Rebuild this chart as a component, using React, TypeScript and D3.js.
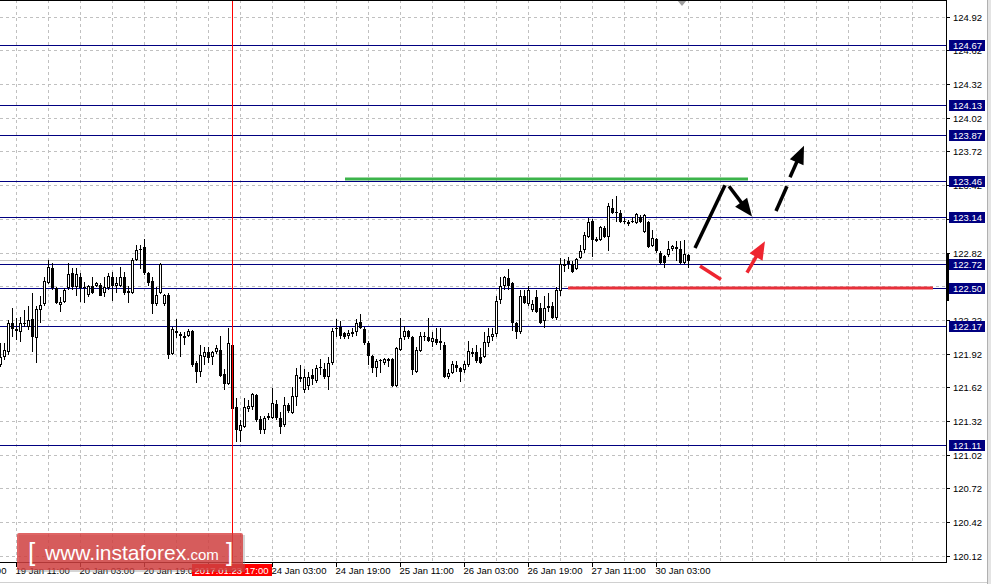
import { useEffect } from 'react';
import * as d3 from 'd3';

// H1 candles, 19 Jan 07:00 .. 30 Jan 07:00 (index = bar number)
const opens = [
  121.82, 121.89, 121.93, 122.19, 122.14, 122.11, 122.19, 122.16, 122.23, 122.06,
  122.31, 122.36, 122.55, 122.68, 122.50, 122.35, 122.38, 122.50, 122.64, 122.51,
  122.60, 122.51, 122.44, 122.52, 122.52, 122.53, 122.46, 122.50, 122.60, 122.52,
  122.52, 122.60, 122.48, 122.46, 122.75, 122.84, 122.87, 122.64, 122.57, 122.36,
  122.46, 122.36, 122.44, 121.92, 122.12, 122.09, 122.08, 122.08, 122.12, 121.84,
  121.76, 121.89, 121.93, 121.89, 121.93, 121.95, 121.74, 121.65, 122.00, 121.44,
  121.23, 121.27, 121.43, 121.44, 121.55, 121.34, 121.24, 121.35, 121.35, 121.47,
  121.35, 121.28, 121.46, 121.39, 121.53, 121.71, 121.60, 121.63, 121.73, 121.68,
  121.79, 121.78, 121.71, 121.84, 122.14, 122.16, 122.10, 122.08, 122.11, 122.11,
  122.20, 122.14, 122.01, 121.90, 121.79, 121.85, 121.84, 121.87, 121.87, 121.63,
  121.95, 122.07, 122.12, 122.07, 121.76, 121.94, 122.08, 122.07, 122.02, 122.05,
  122.03, 122.00, 121.71, 121.75, 121.82, 121.79, 121.77, 121.82, 121.93, 121.93,
  121.89, 121.89, 122.01, 122.07, 122.09, 122.40, 122.52, 122.59, 122.55, 122.19,
  122.11, 122.43, 122.36, 122.31, 122.42, 122.33, 122.21, 122.34, 122.34, 122.24,
  122.48, 122.70, 122.74, 122.72, 122.67, 122.77, 122.84, 122.96, 123.10, 122.94,
  122.93, 123.04, 122.96, 123.22, 123.17, 123.17, 123.10, 123.09, 123.09, 123.08,
  123.14, 123.00, 123.09, 122.88, 122.94, 122.82, 122.79, 122.80, 122.85, 122.87,
  122.85, 122.73, 122.80,
];
const highs = [
  122.01, 122.01, 122.22, 122.33, 122.24, 122.25, 122.31, 122.34, 122.46, 122.34,
  122.43, 122.60, 122.75, 122.73, 122.51, 122.42, 122.50, 122.73, 122.68, 122.68,
  122.64, 122.56, 122.53, 122.60, 122.56, 122.55, 122.60, 122.64, 122.65, 122.60,
  122.69, 122.65, 122.52, 122.77, 122.89, 122.89, 122.94, 122.65, 122.60, 122.51,
  122.73, 122.45, 122.46, 122.16, 122.23, 122.11, 122.11, 122.14, 122.13, 121.85,
  122.00, 121.98, 121.98, 121.94, 122.00, 122.08, 121.78, 122.15, 122.01, 121.52,
  121.33, 121.52, 121.51, 121.57, 121.56, 121.36, 121.36, 121.39, 121.61, 121.51,
  121.40, 121.53, 121.48, 121.62, 121.79, 121.82, 121.78, 121.76, 121.78, 121.82,
  121.87, 121.84, 121.89, 122.15, 122.23, 122.21, 122.11, 122.13, 122.15, 122.23,
  122.27, 122.16, 122.03, 121.91, 121.87, 121.87, 121.88, 121.88, 121.88, 121.98,
  122.24, 122.17, 122.13, 122.08, 121.98, 122.11, 122.11, 122.24, 122.11, 122.15,
  122.15, 122.02, 121.78, 121.85, 121.85, 121.80, 121.85, 122.03, 121.97, 122.00,
  121.97, 122.11, 122.15, 122.15, 122.43, 122.60, 122.61, 122.67, 122.56, 122.20,
  122.49, 122.49, 122.52, 122.40, 122.49, 122.37, 122.43, 122.46, 122.38, 122.51,
  122.77, 122.76, 122.78, 122.74, 122.77, 122.89, 123.00, 123.13, 123.12, 122.96,
  123.06, 123.06, 123.26, 123.30, 123.32, 123.20, 123.13, 123.11, 123.14, 123.17,
  123.15, 123.16, 123.10, 123.02, 122.95, 122.83, 122.80, 122.92, 122.89, 122.92,
  122.92, 122.93, 122.81,
];
const lows = [
  121.80, 121.86, 121.91, 122.07, 122.04, 122.02, 122.16, 122.13, 121.93, 121.84,
  122.19, 122.34, 122.54, 122.49, 122.36, 122.29, 122.37, 122.49, 122.49, 122.43,
  122.38, 122.37, 122.42, 122.45, 122.51, 122.43, 122.42, 122.49, 122.39, 122.46,
  122.51, 122.44, 122.37, 122.45, 122.74, 122.67, 122.62, 122.52, 122.27, 122.34,
  122.45, 122.34, 121.87, 121.91, 122.06, 121.89, 122.00, 122.07, 121.80, 121.66,
  121.71, 121.82, 121.84, 121.82, 121.92, 121.71, 121.60, 121.64, 121.38, 121.13,
  121.13, 121.26, 121.40, 121.42, 121.31, 121.20, 121.20, 121.33, 121.34, 121.33,
  121.20, 121.27, 121.39, 121.38, 121.45, 121.67, 121.57, 121.60, 121.64, 121.66,
  121.73, 121.69, 121.60, 121.82, 122.07, 122.05, 122.05, 122.05, 122.07, 122.08,
  122.14, 122.00, 121.82, 121.75, 121.71, 121.75, 121.82, 121.80, 121.62, 121.62,
  121.94, 122.04, 122.05, 121.73, 121.75, 121.93, 122.03, 122.02, 121.98, 122.00,
  121.95, 121.70, 121.69, 121.74, 121.76, 121.67, 121.75, 121.80, 121.89, 121.84,
  121.83, 121.88, 121.98, 122.03, 122.07, 122.36, 122.49, 122.49, 122.12, 122.05,
  122.09, 122.36, 122.34, 122.29, 122.28, 122.18, 122.15, 122.29, 122.23, 122.22,
  122.43, 122.65, 122.67, 122.64, 122.66, 122.76, 122.82, 122.95, 122.78, 122.91,
  122.92, 122.95, 122.83, 123.16, 123.09, 123.08, 123.07, 123.06, 123.08, 123.07,
  123.08, 122.99, 122.86, 122.87, 122.82, 122.72, 122.68, 122.78, 122.83, 122.74,
  122.72, 122.72, 122.68,
];
const closes = [
  121.89, 121.95, 122.19, 122.14, 122.12, 122.19, 122.18, 122.22, 122.07, 122.32,
  122.35, 122.57, 122.69, 122.50, 122.37, 122.38, 122.49, 122.63, 122.51, 122.63,
  122.50, 122.50, 122.52, 122.46, 122.55, 122.43, 122.51, 122.61, 122.52, 122.55,
  122.60, 122.46, 122.46, 122.75, 122.84, 122.85, 122.64, 122.55, 122.36, 122.44,
  122.72, 122.44, 121.91, 122.14, 122.10, 122.08, 122.06, 122.12, 121.82, 121.76,
  121.91, 121.93, 121.88, 121.93, 121.97, 121.72, 121.65, 122.01, 121.43, 121.24,
  121.28, 121.44, 121.45, 121.56, 121.33, 121.24, 121.35, 121.36, 121.48, 121.35,
  121.27, 121.46, 121.41, 121.54, 121.73, 121.69, 121.71, 121.71, 121.69, 121.79,
  121.80, 121.71, 121.84, 122.12, 122.15, 122.08, 122.07, 122.10, 122.09, 122.19,
  122.15, 122.01, 121.90, 121.79, 121.85, 121.86, 121.87, 121.85, 121.63, 121.97,
  122.06, 122.12, 122.07, 121.77, 121.95, 122.08, 122.07, 122.03, 122.06, 122.01,
  122.01, 121.71, 121.75, 121.83, 121.79, 121.76, 121.83, 121.94, 121.92, 121.85,
  121.84, 122.02, 122.08, 122.09, 122.39, 122.52, 122.60, 122.52, 122.19, 122.11,
  122.43, 122.37, 122.49, 122.36, 122.29, 122.19, 122.33, 122.33, 122.24, 122.49,
  122.72, 122.72, 122.72, 122.65, 122.76, 122.83, 122.98, 123.09, 122.93, 122.92,
  123.05, 122.96, 123.23, 123.17, 123.18, 123.09, 123.09, 123.07, 123.10, 123.16,
  123.09, 123.15, 122.87, 122.95, 122.83, 122.73, 122.73, 122.85, 122.88, 122.85,
  122.73, 122.81, 122.74,
];

const priceTicks = [
  120.12, 120.42, 120.72, 121.02, 121.32, 121.62, 121.92, 122.22, 122.52,
  122.82, 123.12, 123.42, 123.72, 124.02, 124.32, 124.62, 124.92,
];
const levelPrices = [124.67, 124.13, 123.87, 123.46, 123.14, 122.72, 122.5, 122.17, 121.11];

const timeTickBars = [-12, 4, 20, 36, 52, 68, 84, 100, 116, 132, 148, 164];
const timeTickLabels = [
  '18 Jan 19:00', '19 Jan 11:00', '20 Jan 03:00', '20 Jan 19:00', '23 Jan 11:00',
  '24 Jan 03:00', '24 Jan 19:00', '25 Jan 11:00', '26 Jan 03:00', '26 Jan 19:00',
  '27 Jan 11:00', '30 Jan 03:00',
];
const markerBar = 58;
const markerLabel = '2017.01.23 17:00';

// drawn annotations, [bar, price]
const greenLine = [[86.25, 123.475], [187, 123.475]];
const redLine = [[142, 122.5], [233.25, 122.5]];
const blackUp = [[173.75, 122.86], [181.25, 123.42]];
const blackDown = [[182.25, 123.41], [188, 123.14]];
const dashA = [[194, 123.19], [196.75, 123.41]];
const dashB = [[197.5, 123.49], [201, 123.77]];
const redDown = [[175, 122.7], [180.25, 122.58]];
const redUp = [[186.75, 122.64], [191.25, 122.92]];

const W = 991;
const H = 584;
const PLOT_R = 946;
const PLOT_B = 562;
const NAVY = '#000080';
const FONT = 'Liberation Sans, Arial, sans-serif';

const x = d3.scaleLinear().domain([0, 236.5]).range([0, PLOT_R]);
const y = d3.scaleLinear().domain([120.12, 124.92]).range([555.7, 16.7]);

function Arrow({ pts, color, width, head }: { pts: number[][]; color: string; width: number; head: boolean }) {
  const [x0, y0] = [x(pts[0][0]), y(pts[0][1])];
  const [x1, y1] = [x(pts[1][0]), y(pts[1][1])];
  if (!head) {
    return <line x1={x0} y1={y0} x2={x1} y2={y1} stroke={color} strokeWidth={width} />;
  }
  const len = Math.hypot(x1 - x0, y1 - y0);
  const ux = (x1 - x0) / len;
  const uy = (y1 - y0) / len;
  const hl = 18;
  const hw = 7.5;
  const bx = x1 - ux * hl;
  const by = y1 - uy * hl;
  const poly = [
    [x1, y1],
    [bx - uy * hw, by + ux * hw],
    [bx + uy * hw, by - ux * hw],
  ];
  return (
    <g>
      <line x1={x0} y1={y0} x2={bx + ux * 3} y2={by + uy * 3} stroke={color} strokeWidth={width} />
      <polygon points={poly.map((p) => p.join(',')).join(' ')} fill={color} />
    </g>
  );
}

export default function App() {
  useEffect(() => {
    document.body.style.margin = '0';
  }, []);

  const gridX = d3.range(4, 236, 8).map((b) => Math.round(x(b)) + 0.5);
  const markerX = Math.round(x(markerBar)) + 0.5;
  const bidY = Math.round(y(closes[closes.length - 1])) + 0.5;

  return (
    <svg width={W} height={H} style={{ display: 'block', fontFamily: FONT }}>
      <rect width={W} height={H} fill="#fff" />

      {/* grid */}
      <g stroke="#c0c0c0" strokeDasharray="3,3" strokeWidth={1}>
        {priceTicks.map((p) => (
          <line key={p} x1={0} x2={PLOT_R} y1={Math.round(y(p)) + 0.5} y2={Math.round(y(p)) + 0.5} />
        ))}
        {gridX.map((gx) => (
          <line key={gx} x1={gx} x2={gx} y1={0} y2={PLOT_B} />
        ))}
      </g>

      {/* bid line */}
      <line x1={0} x2={PLOT_R} y1={bidY - 1} y2={bidY - 1} stroke="#c0c0c0" />

      {/* levels */}
      {levelPrices.map((p) => {
        const ly = Math.round(y(p)) + 0.5;
        return <line key={p} x1={0} x2={PLOT_R} y1={ly} y2={ly} stroke={NAVY} strokeWidth={1} />;
      })}

      {/* candles */}
      <g>
        {opens.map((o, i) => {
          const c = closes[i];
          const cx = Math.round(x(i));
          const yh = Math.round(y(highs[i]));
          const yl = Math.round(y(lows[i]));
          const top = Math.round(y(Math.max(o, c)));
          const bot = Math.round(y(Math.min(o, c)));
          const bh = Math.max(bot - top, 1);
          return (
            <g key={i}>
              <rect x={cx} y={yh} width={1} height={Math.max(yl - yh, 1)} fill="#000" />
              <rect x={cx - 1} y={top} width={3} height={bh} fill="#000" />
              {c > o && bh > 2 && <rect x={cx} y={top + 1} width={1} height={bh - 2} fill="#fff" />}
            </g>
          );
        })}
      </g>

      {/* marker vertical */}
      <line x1={markerX} x2={markerX} y1={0} y2={PLOT_B} stroke="#ff0000" />

      {/* annotations */}
      <line
        x1={x(greenLine[0][0])} x2={x(greenLine[1][0])}
        y1={y(greenLine[0][1])} y2={y(greenLine[1][1])}
        stroke="#3cb44a" strokeWidth={3}
      />
      <line
        x1={x(redLine[0][0])} x2={x(redLine[1][0])}
        y1={Math.round(y(redLine[0][1]))} y2={Math.round(y(redLine[1][1]))}
        stroke="#e8303a" strokeWidth={3}
      />
      <Arrow pts={blackUp} color="#000" width={3.5} head={false} />
      <Arrow pts={blackDown} color="#000" width={3.5} head={true} />
      <Arrow pts={dashA} color="#000" width={3.5} head={false} />
      <Arrow pts={dashB} color="#000" width={3.5} head={true} />
      <Arrow pts={redDown} color="#ee2530" width={3.5} head={false} />
      <Arrow pts={redUp} color="#ee2530" width={3.5} head={true} />

      {/* chart shift marker */}
      <polygon points="677,0 687,0 682,6" fill="#a0a0a0" />

      {/* frame */}
      <line x1={0} x2={PLOT_R + 0.5} y1={0.5} y2={0.5} stroke="#000" />
      <line x1={0} x2={PLOT_R + 0.5} y1={PLOT_B + 0.5} y2={PLOT_B + 0.5} stroke="#000" />
      <line x1={PLOT_R + 0.5} x2={PLOT_R + 0.5} y1={0} y2={PLOT_B + 1} stroke="#000" />
      <rect x={PLOT_R} y={Math.round(y(122.82))} width={3} height={Math.round(y(122.39)) - Math.round(y(122.82))} fill="#000" />

      {/* price axis */}
      <g fontSize={9.5} fill="#000">
        {priceTicks.map((p) => {
          const ty = Math.round(y(p)) + 0.5;
          return (
            <g key={p}>
              <line x1={PLOT_R} x2={PLOT_R + 4} y1={ty} y2={ty} stroke="#000" />
              <text x={953} y={ty + 3.5}>{p.toFixed(2)}</text>
            </g>
          );
        })}
      </g>
      <g fontSize={9.5}>
        {levelPrices.map((p) => {
          const ly = Math.round(y(p));
          return (
            <g key={p}>
              <rect x={949} y={ly - 5} width={36} height={11} fill={NAVY} />
              <text x={953} y={ly + 4} fill="#fff">{p.toFixed(2)}</text>
            </g>
          );
        })}
      </g>

      {/* time axis */}
      <g fontSize={9.5} fill="#000">
        {timeTickBars.map((b, i) => {
          const tx = Math.round(x(b)) + 0.5;
          return (
            <g key={b}>
              <line x1={tx} x2={tx} y1={PLOT_B} y2={PLOT_B + 5} stroke="#000" />
              <text x={tx - 1} y={574}>{timeTickLabels[i]}</text>
            </g>
          );
        })}
      </g>
      <rect x={markerX - 40.5} y={564} width={80} height={12} fill="#ff0000" />
      <text x={markerX - 38} y={574} fontSize={9.5} fill="#fff">{markerLabel}</text>

      {/* logo */}
      <rect x={19} y={535} width={226} height={37} fill="#888" opacity={0.35} />
      <rect x={17} y={533} width={226} height={37} rx={2} fill="#d63a3a" opacity={0.78} />
      <text x={28} y={561} fill="#fff" fontSize={26} fontWeight={300}>[</text>
      <text x={45} y={560} fill="#fff" fontSize={21}>
        www.instaforex<tspan fontSize={15}>.com</tspan>
      </text>
      <text x={226} y={561} fill="#fff" fontSize={26} fontWeight={300}>]</text>

      {/* bottom / right borders of window */}
      <line x1={0} x2={987} y1={582.5} y2={582.5} stroke="#d0d0d0" />
      <rect x={987} y={0} width={4} height={H} fill="#e4e4e4" />
      <line x1={987.5} x2={987.5} y1={0} y2={H} stroke="#b0b0b0" />
    </svg>
  );
}
